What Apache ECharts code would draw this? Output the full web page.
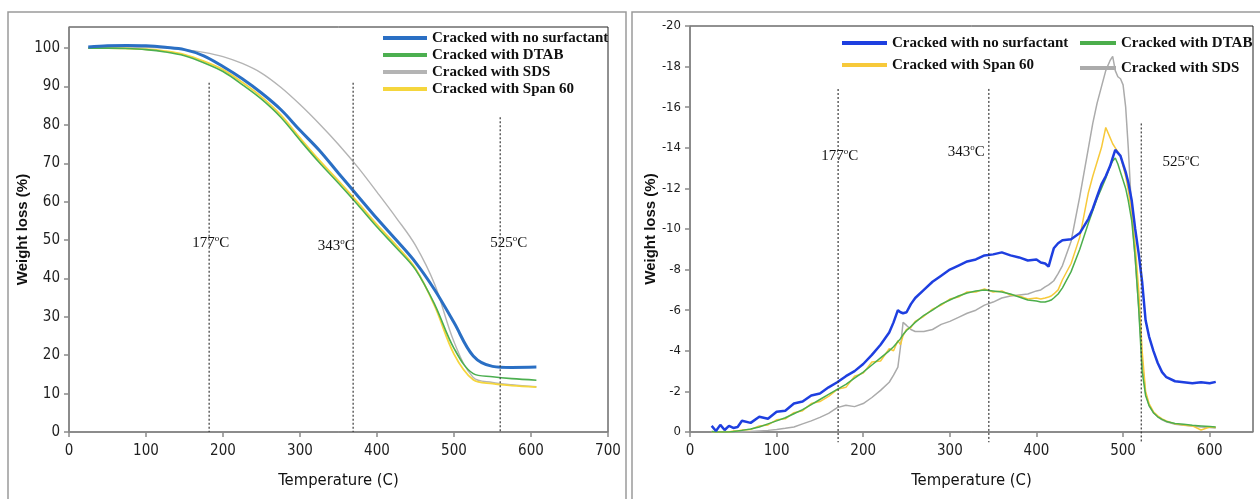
<!DOCTYPE html>
<html>
<head>
<meta charset="utf-8">
<title>TGA / DTG curves</title>
<script src="https://cdn.jsdelivr.net/npm/echarts/dist/echarts.min.js"></script>
<style>
  html, body { margin: 0; padding: 0; background: #fff; }
  #chart { width: 1260px; height: 499px; }
</style>
</head>
<body>
<div id="chart"></div>
<script>
// ---- Series names ----
const seriesNames = ['Cracked with no surfactant', 'Cracked with DTAB', 'Cracked with SDS', 'Cracked with Span 60'];

// ---- Left panel: weight remaining (%) vs temperature ----
const tgaTemp = [25, 50, 75, 100, 125, 150, 175, 200, 225, 250, 275, 300, 325, 350, 375, 400, 425, 450, 475, 500, 525, 550, 575, 607];
const tgaNoSurfactant = [100.3, 100.6, 100.7, 100.6, 100.2, 99.6, 98.0, 95.2, 92.0, 88.3, 84.0, 78.6, 73.4, 67.4, 61.5, 55.6, 50.0, 44.2, 37.0, 28.5, 19.8, 17.1, 16.8, 16.9];
const tgaDTAB = [100, 100, 99.9, 99.6, 99.0, 98.0, 96.2, 93.9, 90.5, 86.7, 82.0, 76.0, 70.2, 64.8, 59.2, 53.4, 48.0, 42.3, 33.2, 21.8, 15.2, 14.4, 13.9, 13.5];
const tgaSDS = [100, 100.2, 100.3, 100.2, 100, 99.6, 98.9, 97.8, 96.0, 93.5, 89.8, 85.3, 80.3, 74.9, 69.0, 62.5, 55.8, 48.6, 38.4, 23.5, 14.2, 12.9, 12.3, 11.8];
const tgaSpan60 = [100, 100, 99.9, 99.7, 99.2, 98.3, 96.6, 94.4, 91.1, 87.3, 82.6, 76.6, 70.8, 65.4, 59.8, 54.0, 48.6, 42.6, 32.8, 20.3, 13.6, 12.6, 12.1, 11.7];
const tgaYTicks = [0, 10, 20, 30, 40, 50, 60, 70, 80, 90, 100];

// ---- Right panel: derivative weight loss vs temperature ----
const dtgTemp = [25, 30, 35, 40, 45, 50, 55, 60,
  70, 80, 90, 100, 110, 120, 130, 140, 150, 160, 170, 180, 190, 200, 210, 220, 230,
  235, 240, 243, 246, 250, 255, 260,
  270, 280, 290, 300, 310, 320, 330, 340, 350, 360, 370, 380, 390, 400,
  405, 410, 414, 417, 420, 425, 430,
  440, 450, 460, 465, 470, 475, 480, 485, 488, 491, 494, 497, 500, 503, 506, 510, 514, 518, 522, 526, 530, 535, 540, 545, 550,
  560, 570, 580, 590, 600, 607];
const dtgNoSurfactant = [-0.3, -0.05, -0.35, -0.1, -0.3, -0.2, -0.25, -0.55,
  -0.45, -0.75, -0.65, -1.0, -1.05, -1.4, -1.5, -1.8, -1.9, -2.2, -2.45, -2.75, -3.0, -3.35, -3.8, -4.3, -4.9,
  -5.4, -6.0, -5.9, -5.85, -5.9, -6.3, -6.6,
  -7.0, -7.4, -7.7, -8.0, -8.2, -8.4, -8.5, -8.7, -8.75, -8.85, -8.7, -8.6, -8.45, -8.5,
  -8.35, -8.3, -8.15, -8.6, -9.05, -9.3, -9.45,
  -9.5, -9.8, -10.5, -11.0, -11.6, -12.2, -12.6, -13.1, -13.5, -13.9, -13.75, -13.6, -13.2, -12.8, -12.3, -11.4, -10.0, -8.8, -7.4, -5.5, -4.7, -4.0, -3.4, -2.95, -2.7,
  -2.5, -2.45, -2.4, -2.45, -2.4, -2.47];
const dtgDTAB = [-0.02, 0, 0, 0, 0, -0.02, -0.05, -0.08,
  -0.15, -0.25, -0.4, -0.55, -0.7, -0.9, -1.1, -1.35, -1.6, -1.85, -2.1, -2.35, -2.65, -2.95, -3.3, -3.65, -4.0,
  -4.2, -4.45, -4.6, -4.8, -5.0, -5.2, -5.4,
  -5.75, -6.0, -6.3, -6.5, -6.7, -6.85, -6.95, -7.0, -6.95, -6.9, -6.8, -6.65, -6.5, -6.45,
  -6.4, -6.4, -6.45, -6.5, -6.6, -6.8, -7.1,
  -7.9, -9.0, -10.3, -10.9, -11.5, -12.0, -12.5, -13.1, -13.35, -13.5, -13.2, -12.8, -12.4, -12.0, -11.4, -10.4, -8.6, -6.1, -3.0, -1.8, -1.3, -0.95, -0.75, -0.62, -0.52,
  -0.42, -0.38, -0.33, -0.3, -0.27, -0.25];
const dtgSDS = [0, 0, 0, 0, 0, 0, 0, 0,
  -0.02, -0.05, -0.08, -0.12, -0.18, -0.25, -0.4, -0.55, -0.72, -0.92, -1.2, -1.32, -1.25, -1.4, -1.7, -2.05, -2.45,
  -2.8, -3.2, -4.2, -5.4, -5.25, -5.05, -4.95,
  -4.95, -5.05, -5.3, -5.45, -5.65, -5.85, -6.0, -6.25, -6.4, -6.6, -6.7, -6.75, -6.8, -6.95,
  -7.0, -7.15, -7.25, -7.35, -7.45, -7.8, -8.2,
  -9.4, -11.6, -14.0, -15.2, -16.2, -17.0, -17.8, -18.3, -18.5, -17.8, -17.5, -17.4, -17.1, -16.0, -14.0, -10.8, -8.5, -6.2, -3.5, -1.9, -1.3, -0.95, -0.75, -0.6, -0.5,
  -0.38, -0.33, -0.3, -0.25, -0.22, -0.2];
const dtgSpan60 = [-0.02, 0, 0, -0.02, 0, -0.05, -0.05, -0.1,
  -0.12, -0.3, -0.35, -0.6, -0.65, -0.95, -1.05, -1.4, -1.5, -1.75, -2.1, -2.2, -2.75, -2.9, -3.45, -3.5, -4.1,
  -4.0, -4.5, -4.3, -4.75, -5.05, -5.15, -5.45,
  -5.7, -6.05, -6.25, -6.55, -6.65, -6.9, -6.9, -7.05, -6.9, -6.95, -6.75, -6.7, -6.55, -6.6,
  -6.55, -6.6, -6.65, -6.7, -6.8, -7.0, -7.5,
  -8.3, -9.6, -11.8, -12.6, -13.3, -14.0, -15.0, -14.5, -14.2, -14.0, -13.8, -13.6, -13.1, -12.6, -11.9, -10.8, -9.2, -7.0, -4.0, -2.0, -1.4, -1.0, -0.8, -0.65, -0.55,
  -0.4, -0.35, -0.3, -0.1, -0.25, -0.22];
const dtgXTicks = [0, 100, 200, 300, 400, 500, 600];

// ---- Characteristic temperatures: where the dotted guides stand, their top ends and their captions ----
const tgaGuideTemp = [182, 369, 560];
const tgaGuideTop = [91, 91, 82];
const tgaGuideText = ['177', '343', '525'];
const dtgGuideTemp = [171, 345, 521];
const dtgGuideTop = [-16.9, -16.9, -15.2];
const dtgGuideBottom = 0.5;
const dtgGuideText = ['177', '343', '525'];

const zip = (xs, ys) => xs.map((x, i) => [x, ys[i]]);

const NARROW = "'Liberation Sans Narrow', 'DejaVu Sans Condensed', sans-serif";
const SERIF = "'Liberation Serif', 'DejaVu Serif', serif";
const SANS = "'Liberation Sans', Arial, sans-serif";

const leftColors = { blue: '#2a6fc4', green: '#4caf50', gray: '#b4b4b4', yellow: '#f5d63d' };
const rightColors = { blue: '#1e3fe0', green: '#4cae4c', gray: '#ababab', yellow: '#f7c93a' };

const axisLineStyle = { color: '#8a8a8a', width: 1.5 };

const guideCaption = (num) => '{n|' + num + '}{s|o}{n|C}';
const captionRich = {
  n: { fontFamily: SERIF, fontSize: 15, color: '#111', lineHeight: 18 },
  s: { fontFamily: SERIF, fontSize: 9, color: '#111', verticalAlign: 'top', lineHeight: 18, padding: [0, 0, 6, 0] }
};

const legendText = { fontFamily: SERIF, fontWeight: 'bold', fontSize: 15, color: '#111', lineHeight: 16 };

function oneLegend(name, color, left, top, width) {
  return {
    left: left, top: top, orient: 'horizontal', icon: 'rect',
    itemWidth: width, itemHeight: 4, padding: 0,
    selectedMode: false,
    data: [{ name: name, itemStyle: { color: color } }],
    textStyle: legendText
  };
}

const tgaLine = (name, values, color, width, z, extra) => Object.assign({
  name: name, type: 'line', xAxisIndex: 0, yAxisIndex: 0,
  data: zip(tgaTemp, values), smooth: 0.35, showSymbol: false,
  lineStyle: { color: color, width: width }, itemStyle: { color: color }, z: z
}, extra || {});

const dtgLine = (name, values, color, width, z, extra) => Object.assign({
  name: name, type: 'line', xAxisIndex: 1, yAxisIndex: 1,
  data: zip(dtgTemp, values), showSymbol: false,
  lineStyle: { color: color, width: width }, itemStyle: { color: color }, z: z
}, extra || {});

const chart = echarts.init(document.getElementById('chart'), null, { renderer: 'canvas' });

const option = {
  animation: false,
  backgroundColor: '#ffffff',
  grid: [
    { left: 69, top: 27, width: 539, height: 405, show: true, borderColor: '#222', borderWidth: 1, containLabel: false },
    { left: 690, top: 26, width: 563, height: 406, show: true, borderColor: '#222', borderWidth: 1, containLabel: false }
  ],
  legend: [
    {
      left: 383, top: 30, orient: 'vertical', icon: 'rect',
      itemWidth: 44, itemHeight: 4, itemGap: 1, padding: 0, selectedMode: false,
      data: [
        { name: seriesNames[0], itemStyle: { color: leftColors.blue } },
        { name: seriesNames[1], itemStyle: { color: leftColors.green } },
        { name: seriesNames[2], itemStyle: { color: leftColors.gray } },
        { name: seriesNames[3], itemStyle: { color: leftColors.yellow } }
      ],
      textStyle: legendText
    },
    oneLegend(seriesNames[0], rightColors.blue, 842, 35, 45),
    oneLegend(seriesNames[1], rightColors.green, 1080, 35, 36),
    oneLegend(seriesNames[3], rightColors.yellow, 842, 57, 45),
    oneLegend(seriesNames[2], rightColors.gray, 1080, 60, 36)
  ],
  xAxis: [
    {
      gridIndex: 0, type: 'value', min: 0, max: 700, interval: 100,
      axisLine: { show: true, onZero: false, lineStyle: axisLineStyle },
      axisTick: { show: true, length: 5, lineStyle: axisLineStyle },
      axisLabel: { color: '#1e1e1e', fontFamily: NARROW, fontSize: 15, margin: 12 },
      splitLine: { show: false },
      name: 'Temperature (C)', nameLocation: 'middle', nameGap: 40,
      nameTextStyle: { color: '#111', fontFamily: NARROW, fontSize: 16.5 }
    },
    {
      gridIndex: 1, type: 'value', min: 0, max: 650, interval: 100,
      axisLine: { show: true, onZero: false, lineStyle: axisLineStyle },
      axisTick: { show: true, length: 5, lineStyle: axisLineStyle, customValues: dtgXTicks },
      axisLabel: { color: '#1e1e1e', fontFamily: NARROW, fontSize: 15, margin: 12, customValues: dtgXTicks },
      splitLine: { show: false },
      name: 'Temperature (C)', nameLocation: 'middle', nameGap: 40,
      nameTextStyle: { color: '#111', fontFamily: NARROW, fontSize: 16.5 }
    }
  ],
  yAxis: [
    {
      gridIndex: 0, type: 'value', min: 0, max: 105.5, interval: 10,
      axisLine: { show: true, onZero: false, lineStyle: axisLineStyle },
      axisTick: { show: true, length: 5, lineStyle: axisLineStyle, customValues: tgaYTicks },
      axisLabel: { color: '#1e1e1e', fontFamily: NARROW, fontSize: 15, margin: 9, customValues: tgaYTicks },
      splitLine: { show: false },
      name: 'Weight loss (%)', nameLocation: 'middle', nameGap: 29, nameRotate: 90,
      nameTextStyle: { color: '#111', fontFamily: SANS, fontWeight: 'bold', fontSize: 15 }
    },
    {
      gridIndex: 1, type: 'value', min: -20, max: 0, interval: 2, inverse: true,
      axisLine: { show: true, onZero: false, lineStyle: axisLineStyle },
      axisTick: { show: true, length: 5, lineStyle: axisLineStyle },
      axisLabel: { color: '#1e1e1e', fontFamily: NARROW, fontSize: 13, margin: 9 },
      splitLine: { show: false },
      name: 'Weight loss (%)', nameLocation: 'middle', nameGap: 32, nameRotate: 90,
      nameTextStyle: { color: '#111', fontFamily: SANS, fontWeight: 'bold', fontSize: 15 }
    }
  ],
  series: [
    // left panel
    tgaLine(seriesNames[2], tgaSDS, leftColors.gray, 1.4, 2),
    tgaLine(seriesNames[3], tgaSpan60, leftColors.yellow, 1.8, 3),
    tgaLine(seriesNames[1], tgaDTAB, leftColors.green, 1.6, 4, {
      markPoint: {
        symbol: 'circle', symbolSize: 0, silent: true,
        label: { show: true, position: 'inside', rich: captionRich },
        data: [
          { coord: [184, 49.2], label: { formatter: guideCaption(tgaGuideText[0]) } },
          { coord: [347, 48.4], label: { formatter: guideCaption(tgaGuideText[1]) } },
          { coord: [571, 49.2], label: { formatter: guideCaption(tgaGuideText[2]) } }
        ]
      }
    }),
    tgaLine(seriesNames[0], tgaNoSurfactant, leftColors.blue, 3, 5),
    // right panel
    dtgLine(seriesNames[2], dtgSDS, rightColors.gray, 1.5, 2),
    dtgLine(seriesNames[3], dtgSpan60, rightColors.yellow, 1.5, 3),
    dtgLine(seriesNames[1], dtgDTAB, rightColors.green, 1.5, 4, {
      markPoint: {
        symbol: 'circle', symbolSize: 0, silent: true,
        label: { show: true, position: 'inside', rich: captionRich },
        data: [
          { coord: [173, -13.6], label: { formatter: guideCaption(dtgGuideText[0]) } },
          { coord: [319, -13.8], label: { formatter: guideCaption(dtgGuideText[1]) } },
          { coord: [567, -13.3], label: { formatter: guideCaption(dtgGuideText[2]) } }
        ]
      }
    }),
    dtgLine(seriesNames[0], dtgNoSurfactant, rightColors.blue, 2.5, 5)
  ]
};

chart.setOption(option);

// Dotted guides at the characteristic temperatures, placed through each grid's scales,
// plus the two panel frames.
const guideStyle = { stroke: '#3a3a3a', lineWidth: 1.2, lineDash: [2, 2] };
const graphics = [
  { type: 'rect', shape: { x: 8, y: 12, width: 618, height: 520 }, style: { fill: 'none', stroke: '#9a9a9a', lineWidth: 1.5 }, z: 0, silent: true },
  { type: 'rect', shape: { x: 632, y: 12, width: 640, height: 520 }, style: { fill: 'none', stroke: '#9a9a9a', lineWidth: 1.5 }, z: 0, silent: true }
];
tgaGuideTemp.forEach((t, i) => {
  const p1 = chart.convertToPixel({ gridIndex: 0 }, [t, tgaGuideTop[i]]);
  const p2 = chart.convertToPixel({ gridIndex: 0 }, [t, 0]);
  graphics.push({ type: 'line', shape: { x1: p1[0], y1: p1[1], x2: p2[0], y2: p2[1] }, style: guideStyle, z: 10, silent: true });
});
dtgGuideTemp.forEach((t, i) => {
  const p1 = chart.convertToPixel({ gridIndex: 1 }, [t, dtgGuideTop[i]]);
  const p2 = chart.convertToPixel({ gridIndex: 1 }, [t, dtgGuideBottom]);
  graphics.push({ type: 'line', shape: { x1: p1[0], y1: p1[1], x2: p2[0], y2: p2[1] }, style: guideStyle, z: 10, silent: true });
});
chart.setOption({ graphic: graphics });
</script>
</body>
</html>
